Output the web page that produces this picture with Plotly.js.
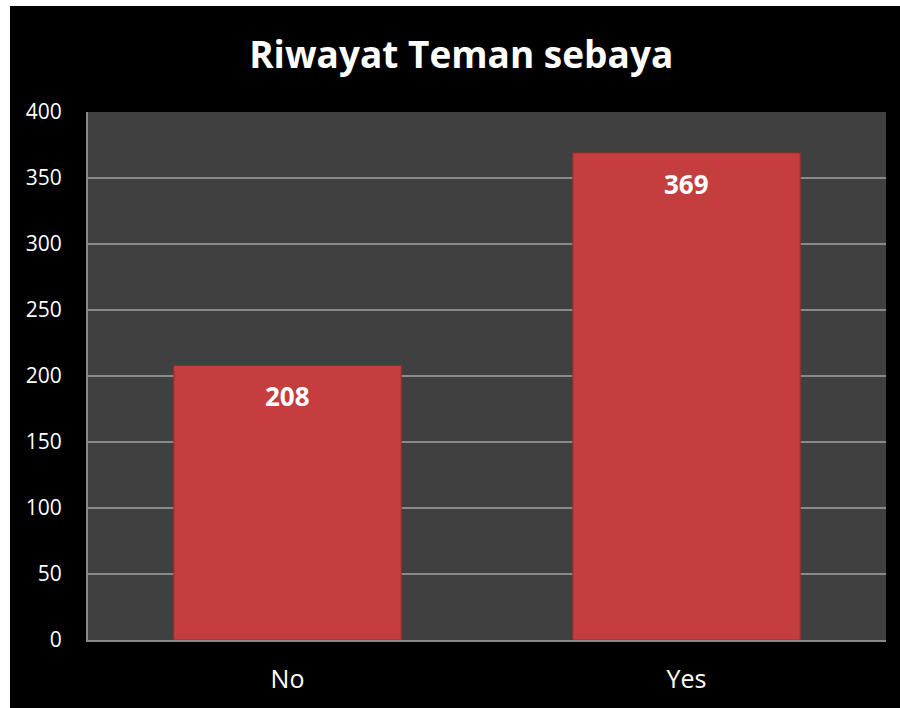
<!DOCTYPE html>
<html>
<head>
<meta charset="utf-8">
<script src="https://cdn.plot.ly/plotly-3.0.1.min.js"></script>
<style>
html,body{margin:0;padding:0;background:#ffffff;}
#chart{position:absolute;left:10px;top:6px;width:890px;height:702px;}
</style>
</head>
<body>
<div id="chart"></div>
<script>
const categories = ["No", "Yes"];
const values = [208, 369];
const tickValues = [0, 50, 100, 150, 200, 250, 300, 350, 400];
const chartTitle = "Riwayat Teman sebaya";

const trace = {
  type: "bar",
  x: categories,
  y: values,
  marker: {color: "#c43e3e", line: {color: "#9a2c2c", width: 1}},
  hoverinfo: "skip"
};

const annotations = categories.map((c, i) => ({
  x: c, y: values[i], xref: "x", yref: "y",
  text: "<b>" + values[i] + "</b>",
  showarrow: false, yanchor: "middle", yshift: -31,
  font: {family: "Open Sans, sans-serif", size: 26, color: "#ffffff"}
}));

const layout = {
  width: 890, height: 702,
  paper_bgcolor: "#000000",
  plot_bgcolor: "#404040",
  margin: {l: 78, r: 14, t: 106, b: 68},
  bargap: 0.43,
  showlegend: false,
  title: {
    text: "<b>" + chartTitle + "</b>",
    font: {family: "Open Sans, sans-serif", size: 37, color: "#ffffff"},
    x: 0.507, xanchor: "center", xref: "container",
    y: 0.93, yanchor: "middle", yref: "container"
  },
  xaxis: {
    type: "category",
    tickfont: {family: "Open Sans, sans-serif", size: 25, color: "#ffffff"},
    showgrid: false, zeroline: false,
    showline: true, linecolor: "#8a8a8a", linewidth: 2,
    ticks: "", ticklabelstandoff: 16
  },
  yaxis: {
    range: [0, 400],
    tickvals: tickValues,
    tickfont: {family: "Open Sans, sans-serif", size: 21, color: "#ffffff"},
    showgrid: true, gridcolor: "#8a8a8a", gridwidth: 1.5,
    zeroline: false,
    showline: true, linecolor: "#8a8a8a", linewidth: 2,
    ticks: "", ticklabelstandoff: 20
  },
  annotations: annotations
};

Plotly.newPlot("chart", [trace], layout, {displayModeBar: false, staticPlot: true});
</script>
</body>
</html>
